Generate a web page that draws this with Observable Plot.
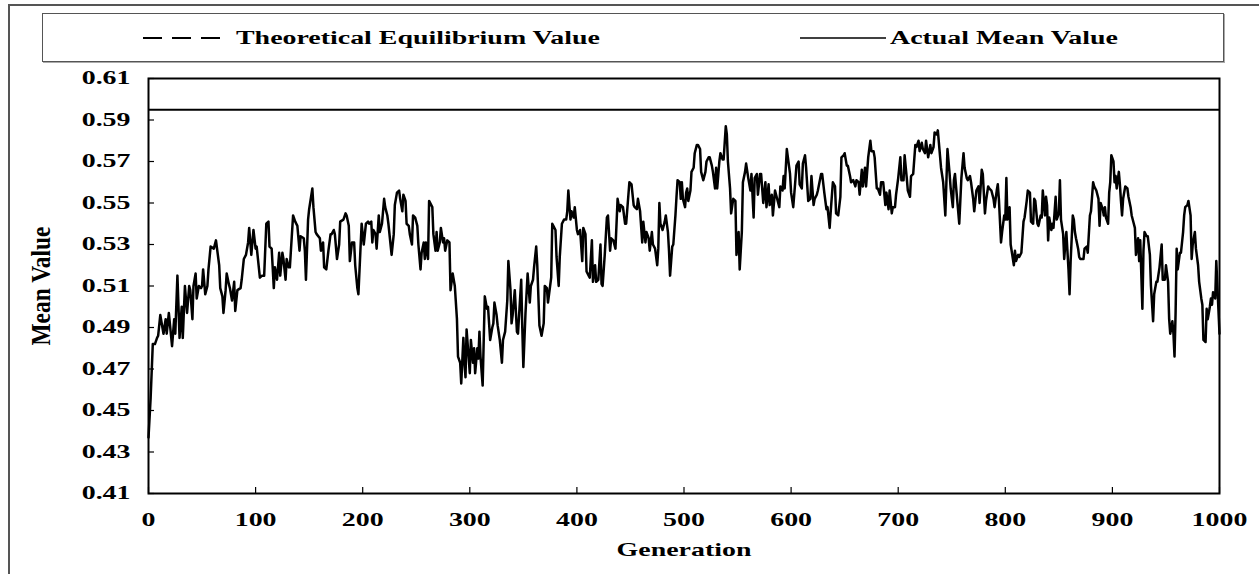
<!DOCTYPE html>
<html>
<head>
<meta charset="utf-8">
<script src="https://cdn.jsdelivr.net/npm/d3@7"></script>
<script src="https://cdn.jsdelivr.net/npm/@observablehq/plot@0.6"></script>
<style>
  html, body { margin: 0; padding: 0; background: #fff; }
  #wrap { position: relative; width: 1259px; height: 574px; overflow: hidden;
          font-family: "Liberation Serif", "Times New Roman", serif; font-weight: bold; color: #000; }
  #outer { position: absolute; left: 8px; top: 4px; width: 1400px; height: 700px;
           border-left: 2px solid #555; border-top: 2px solid #555; }
  #legend { position: absolute; left: 42px; top: 13px; width: 1182px; height: 49px;
            box-sizing: border-box; border: 1px solid #555; box-shadow: 1px 1px 0 #aaa; background: #fff; }
  .sample { position: absolute; top: 50%; transform: translateY(-50%); }
  .lbl { position: absolute; top: 50%; font-size: 18px; white-space: nowrap; line-height: 1;
         transform-origin: left center; transform: translateY(-50%) scaleX(1.55); }
  #chart { position: absolute; left: 0; top: 70px; }
</style>
</head>
<body>
<div id="wrap">
  <div id="outer"></div>
  <div id="legend"></div>
  <div id="chart"></div>
</div>
<script>
// ---- data ----
const seriesNames = ["Theoretical Equilibrium Value", "Actual Mean Value"];
const equilibriumValue = 0.595;
const xTicks = [0, 100, 200, 300, 400, 500, 600, 700, 800, 900, 1000];
const yTicks = [0.41, 0.43, 0.45, 0.47, 0.49, 0.51, 0.53, 0.55, 0.57, 0.59, 0.61];

// [generation, mean value]
const gen0to196 = [[0,.437],[2,.456],[4,.482],[6,.482],[8,.485],[9,.486],[11,.496],[14,.487],[16,.494],[17,.487],[19,.497],[22,.481],[24,.494],[25,.487],[27,.515],[29,.485],[31,.500],[32,.485],[34,.510],[36,.497],[38,.510],[39,.508],[41,.494],[42,.510],[44,.516],[45,.504],[47,.510],[49,.509],[50,.510],[51,.518],[53,.506],[55,.510],[56,.518],[58,.529],[61,.528],[63,.532],[66,.520],[67,.509],[69,.505],[70,.497],[72,.508],[73,.516],[75,.511],[76,.509],[78,.503],[80,.512],[81,.498],[83,.508],[86,.509],[87,.513],[89,.523],[91,.525],[93,.531],[94,.538],[96,.525],[98,.537],[100,.528],[101,.529],[104,.514],[106,.515],[108,.515],[110,.540],[112,.541],[113,.529],[115,.528],[117,.509],[118,.519],[120,.513],[122,.526],[123,.515],[125,.526],[126,.523],[128,.513],[129,.523],[131,.519],[132,.519],[135,.544],[137,.541],[139,.539],[141,.527],[142,.534],[145,.533],[146,.527],[147,.513],[149,.542],[150,.547],[153,.557],[154,.548],[156,.536],[157,.535],[160,.533],[161,.527],[163,.531],[164,.519],[166,.518],[168,.527],[170,.535],[171,.535],[173,.537],[174,.535],[176,.523],[178,.530],[179,.541],[182,.542],[184,.545],[185,.544],[187,.539],[188,.522],[190,.531],[192,.531],[193,.520],[195,.509],[196,.506]];
const gen199to409 = [[199,.540],[201,.530],[203,.540],[205,.541],[206,.540],[208,.541],[209,.531],[210,.537],[212,.535],[213,.528],[215,.544],[216,.536],[218,.540],[220,.552],[221,.548],[223,.544],[224,.540],[226,.530],[227,.525],[229,.535],[230,.549],[232,.555],[234,.556],[235,.552],[237,.546],[238,.554],[240,.551],[241,.540],[243,.539],[244,.535],[246,.530],[247,.544],[249,.543],[251,.539],[252,.530],[254,.518],[255,.526],[257,.531],[258,.523],[259,.531],[261,.523],[262,.551],[265,.548],[266,.535],[268,.527],[269,.536],[270,.527],[272,.531],[273,.538],[275,.531],[276,.533],[277,.527],[279,.532],[281,.531],[282,.508],[284,.516],[286,.510],[288,.494],[289,.476],[291,.473],[292,.463],[294,.485],[295,.473],[296,.466],[297,.489],[299,.475],[300,.468],[301,.484],[303,.473],[304,.480],[305,.468],[307,.480],[308,.475],[309,.488],[310,.476],[312,.462],[313,.484],[314,.505],[316,.499],[317,.500],[319,.484],[321,.490],[322,.492],[323,.502],[325,.496],[326,.491],[328,.484],[330,.473],[331,.484],[333,.488],[335,.503],[336,.522],[338,.508],[339,.492],[340,.496],[342,.508],[344,.488],[345,.487],[348,.513],[349,.490],[350,.471],[352,.497],[354,.516],[356,.502],[357,.510],[359,.513],[360,.519],[362,.529],[363,.520],[365,.491],[367,.486],[369,.492],[370,.510],[372,.509],[373,.502],[376,.514],[377,.540],[378,.539],[380,.537],[381,.524],[383,.510],[384,.524],[386,.540],[388,.542],[390,.542],[391,.546],[392,.556],[394,.542],[395,.546],[397,.543],[398,.548],[400,.537],[401,.535],[403,.537],[405,.522],[406,.538],[408,.535],[409,.517]];
const gen411to616 = [[411,.515],[412,.514],[414,.532],[415,.512],[417,.520],[418,.512],[420,.513],[422,.530],[423,.511],[424,.510],[426,.525],[428,.543],[429,.544],[431,.527],[432,.533],[434,.532],[436,.528],[438,.552],[440,.546],[441,.549],[443,.548],[445,.540],[446,.540],[449,.560],[451,.559],[453,.549],[454,.548],[456,.547],[457,.552],[459,.546],[461,.531],[462,.541],[464,.531],[465,.536],[467,.533],[468,.527],[470,.536],[471,.530],[473,.528],[475,.520],[476,.528],[477,.550],[478,.540],[480,.537],[482,.541],[483,.544],[485,.536],[486,.527],[487,.515],[489,.529],[490,.530],[492,.544],[493,.553],[494,.561],[496,.560],[497,.552],[498,.560],[499,.552],[501,.548],[502,.555],[503,.557],[504,.551],[506,.556],[507,.565],[509,.567],[510,.574],[512,.578],[513,.578],[515,.576],[516,.565],[518,.561],[520,.565],[521,.570],[523,.572],[524,.572],[526,.568],[527,.565],[529,.557],[530,.567],[531,.557],[533,.570],[534,.574],[536,.571],[537,.571],[539,.587],[540,.583],[541,.570],[543,.557],[544,.545],[546,.552],[548,.551],[549,.525],[551,.536],[552,.518],[554,.536],[555,.560],[557,.565],[558,.569],[560,.562],[562,.556],[563,.564],[565,.543],[566,.562],[568,.564],[569,.554],[571,.564],[572,.564],[574,.550],[576,.560],[577,.548],[579,.559],[580,.549],[582,.554],[583,.544],[585,.556],[586,.554],[589,.548],[590,.558],[592,.556],[593,.563],[594,.557],[596,.576],[597,.572],[599,.564],[600,.555],[602,.548],[604,.561],[605,.568],[607,.570],[608,.559],[610,.557],[611,.569],[613,.573],[614,.567],[616,.551]];
const gen618to805 = [[618,.552],[619,.563],[621,.549],[622,.552],[624,.554],[625,.556],[628,.564],[629,.564],[631,.555],[633,.547],[634,.548],[636,.538],[637,.546],[639,.560],[641,.558],[642,.545],[644,.544],[646,.553],[647,.572],[649,.573],[650,.574],[652,.568],[653,.568],[655,.563],[656,.560],[658,.561],[660,.558],[661,.561],[663,.560],[664,.554],[666,.566],[667,.558],[669,.567],[670,.558],[672,.572],[674,.580],[675,.575],[677,.575],[678,.572],[680,.557],[681,.557],[683,.554],[684,.560],[686,.560],[688,.549],[689,.555],[691,.547],[692,.556],[694,.545],[695,.548],[697,.548],[698,.554],[700,.562],[702,.572],[703,.561],[705,.561],[706,.573],[708,.562],[709,.556],[711,.553],[712,.563],[714,.564],[716,.578],[717,.577],[719,.580],[720,.575],[722,.579],[723,.576],[725,.574],[726,.580],[728,.572],[730,.578],[731,.574],[733,.577],[734,.584],[736,.583],[737,.585],[739,.573],[740,.567],[742,.560],[744,.544],[745,.560],[746,.576],[748,.564],[749,.557],[751,.548],[752,.561],[753,.564],[755,.552],[757,.540],[758,.551],[759,.562],[761,.574],[762,.567],[764,.562],[765,.561],[767,.563],[768,.560],[770,.552],[771,.546],[773,.556],[775,.558],[776,.550],[778,.566],[779,.564],[781,.545],[782,.551],[784,.558],[785,.557],[787,.556],[789,.552],[790,.548],[792,.556],[793,.559],[794,.552],[796,.531],[797,.536],[799,.544],[800,.542],[801,.562],[802,.542],[804,.548],[805,.530]];
const gen808to1000 = [[808,.520],[809,.527],[810,.522],[812,.525],[813,.524],[815,.526],[817,.541],[818,.543],[820,.551],[821,.556],[823,.555],[824,.541],[826,.540],[827,.552],[828,.551],[830,.540],[831,.539],[833,.544],[834,.543],[835,.556],[837,.544],[838,.553],[839,.549],[840,.532],[841,.543],[843,.537],[844,.540],[845,.538],[847,.553],[848,.542],[850,.545],[851,.561],[852,.542],[854,.535],[855,.523],[856,.530],[857,.536],[859,.518],[860,.506],[861,.522],[863,.544],[864,.542],[865,.536],[866,.533],[868,.528],[869,.524],[870,.523],[873,.523],[874,.528],[876,.529],[877,.526],[879,.544],[880,.546],[882,.560],[883,.558],[885,.556],[887,.552],[888,.539],[889,.550],[891,.547],[892,.544],[893,.548],[894,.543],[896,.540],[897,.555],[898,.560],[899,.573],[901,.570],[902,.560],[903,.563],[904,.557],[906,.565],[907,.559],[908,.551],[909,.544],[910,.552],[912,.558],[914,.557],[915,.553],[917,.548],[918,.544],[920,.540],[921,.538],[922,.525],[924,.533],[925,.522],[926,.532],[928,.499],[929,.527],[930,.536],[932,.534],[933,.534],[935,.525],[936,.510],[938,.493],[939,.506],[941,.512],[942,.512],[944,.519],[946,.530],[947,.513],[949,.513],[950,.520],[952,.512],[953,.494],[954,.487],[956,.493],[957,.487],[958,.476],[959,.497],[960,.528],[961,.518],[963,.526],[964,.526],[966,.536],[967,.544],[968,.548],[970,.549],[971,.551],[973,.544],[974,.523],[975,.530],[977,.536],[978,.528],[980,.520],[981,.512],[983,.504],[984,.501],[985,.484],[987,.483],[988,.499],[989,.494],[991,.500],[992,.504],[993,.501],[994,.507],[996,.504],[997,.522],[1000,.487]];

const rows = [...gen0to196, ...gen199to409, ...gen411to616, ...gen618to805, ...gen808to1000]
  .map(([g, v]) => ({generation: g, meanValue: v}));

// ---- legend (HTML, above the svg) ----
const legend = document.getElementById("legend");
const legendItems = [
  {name: seriesNames[0], dash: "19 10", lineLeft: 100, lineWidth: 78, textLeft: 193},
  {name: seriesNames[1], dash: null, lineLeft: 757, lineWidth: 86, textLeft: 847}
];
for (const it of legendItems) {
  const s = d3.create("svg").attr("class", "sample")
    .attr("width", it.lineWidth).attr("height", 6).style("left", it.lineLeft + "px");
  s.append("line").attr("x1", 0).attr("x2", it.lineWidth).attr("y1", 3).attr("y2", 3)
    .attr("stroke", "black").attr("stroke-width", it.dash ? 2 : 1.5)
    .attr("stroke-dasharray", it.dash);
  legend.appendChild(s.node());
  const t = document.createElement("span");
  t.className = "lbl"; t.style.left = it.textLeft + "px"; t.textContent = it.name;
  legend.appendChild(t);
}

// ---- chart ----
const W = 1259, H = 504, mL = 148, mR = 40, mT = 8, mB = 81;
const plot = Plot.plot({
  width: W, height: H,
  marginTop: mT, marginBottom: mB, marginLeft: mL, marginRight: mR,
  style: {fontFamily: '"Liberation Serif", "Times New Roman", serif', fontSize: "18px",
          fontWeight: "bold", background: "none", color: "black", overflow: "visible"},
  x: {domain: [0, 1000], ticks: xTicks, tickSize: 0, tickPadding: 20, tickFormat: d => String(d), label: null},
  y: {domain: [0.41, 0.61], ticks: yTicks, tickSize: 0, tickPadding: 18, tickFormat: ".2f", label: null},
  marks: [
    Plot.tickY(yTicks, {y: d => d, insetRight: (W - mL - mR) - 6, stroke: "black", strokeWidth: 1.2}),
    Plot.tickX(xTicks, {x: d => d, insetTop: (H - mT - mB) - 6, stroke: "black", strokeWidth: 1.2}),
    Plot.ruleY([equilibriumValue], {stroke: "black", strokeWidth: 2}),
    Plot.line(rows, {x: "generation", y: "meanValue", stroke: "black", strokeWidth: 2.5, strokeLinejoin: "round"}),
    Plot.frame({stroke: "black", strokeWidth: 2}),
    Plot.text(["Generation"], {text: d => d, frameAnchor: "bottom", textAnchor: "middle", dy: 62}),
    Plot.text(["Mean Value"], {text: d => d, frameAnchor: "left", textAnchor: "middle", rotate: -90, dx: -107})
  ]
});
document.getElementById("chart").appendChild(plot);

// stretch the text horizontally like the reference (wide bold serif)
plot.querySelectorAll("text").forEach(t => {
  const tr = t.getAttribute("transform") || "";
  const xa = t.getAttribute("x");
  const x = xa && /^-?[\d.]+$/.test(xa) ? +xa : 0;
  const s = /rotate/.test(tr) ? "scale(1.3,1.5)" : "scale(1.55,1)";
  t.setAttribute("transform", `${tr} translate(${x},0) ${s} translate(${-x},0)`);
});
</script>
</body>
</html>
